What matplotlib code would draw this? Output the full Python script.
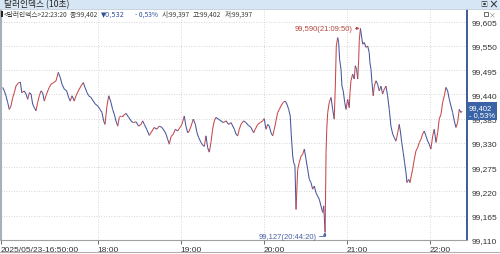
import matplotlib
matplotlib.use("Agg")
import matplotlib.pyplot as plt
from matplotlib.collections import LineCollection
from matplotlib.patches import Rectangle
import numpy as np

# Dollar index, 10-second bars: minutes after 16:50:00 and price
times_min = [
    1.2, 2.4, 3.6, 4.8, 6.0, 7.2, 8.5, 9.6, 10.8, 12.5, 14.0, 15.0, 16.8, 18.1, 19.3, 20.5,
    21.7, 22.9, 24.1, 25.3, 26.5, 27.7, 28.9, 30.1, 31.3, 32.5, 33.8, 34.9, 36.1, 38.1, 39.8,
    41.4, 42.9, 44.1, 45.8, 47.5, 48.9, 50.1, 51.3, 53.0, 54.2, 55.9, 57.8, 59.5, 60.7, 62.2,
    63.4, 65.1, 66.7, 68.2, 69.9, 71.6, 73.0, 74.2, 75.2, 76.6, 77.9, 79.5, 80.7, 81.9, 83.1,
    84.4, 85.5, 86.7, 88.0, 90.4, 92.3, 94.0, 95.6, 97.6, 99.5, 101.2, 102.4, 103.6, 105.3,
    107.2, 109.2, 110.8, 112.6, 114.4, 116.4, 118.1, 119.3, 120.5, 121.7, 122.9, 124.6, 126.0,
    127.7, 129.4, 130.8, 132.5, 133.7, 135.0, 136.1, 137.4, 139.0, 140.5, 141.7, 142.9, 144.6,
    145.8, 147.0, 148.2, 149.4, 150.6, 151.8, 153.0, 154.2, 155.4, 157.1, 159.0, 160.7, 162.7,
    164.6, 166.3, 168.7, 169.9, 171.1, 172.3, 173.5, 175.4, 177.1, 178.8, 180.7, 182.7, 183.8,
    185.6, 187.4, 189.2, 190.3, 191.6, 192.8, 194.0, 195.2, 196.4, 197.6, 198.8, 200.0, 201.2,
    202.4, 204.1, 205.5, 206.7, 208.0, 209.1, 209.9, 210.4, 210.9, 211.6, 212.5, 213.3, 214.5,
    215.6, 216.9, 218.1, 219.3, 220.5, 221.7, 222.9, 224.1, 225.3, 226.5, 227.7, 228.9, 230.1,
    231.3, 232.6, 233.3, 234.33, 235.0, 235.5, 236.2, 237.3, 238.6, 239.8, 240.9, 241.7, 242.4,
    243.4, 244.1, 244.8, 245.8, 246.5, 247.4, 248.5, 249.4, 250.6, 251.8, 252.3, 253.0, 254.2,
    255.4, 256.1, 257.1, 257.9, 258.6, 259.0, 259.83, 261.5, 262.6, 263.9, 265.1, 266.2, 266.7,
    267.5, 268.2, 269.1, 269.9, 271.1, 272.3, 273.5, 274.7, 275.9, 277.1, 278.3, 279.5, 280.7,
    281.9, 283.2, 284.3, 285.5, 286.8, 287.9, 288.7, 289.7, 290.8, 291.8, 292.8, 293.5, 294.7,
    295.7, 296.6, 297.6, 298.8, 300.0, 301.2, 302.4, 303.6, 304.8, 306.0, 307.2, 308.5, 309.6,
    310.8, 312.1, 313.2, 314.5, 315.7, 316.8, 318.1, 319.3, 320.5, 321.7, 322.9, 324.1, 325.3,
    326.5, 327.7, 328.9, 330.1, 331.3, 332.5, 333.33,
]
prices = [
    99.456, 99.448, 99.437, 99.422, 99.406, 99.414, 99.433, 99.444, 99.459, 99.466, 99.468,
    99.444, 99.448, 99.441, 99.429, 99.444, 99.441, 99.418, 99.410, 99.403, 99.422, 99.437,
    99.448, 99.444, 99.425, 99.437, 99.448, 99.456, 99.463, 99.467, 99.471, 99.490, 99.478,
    99.463, 99.452, 99.448, 99.433, 99.425, 99.437, 99.425, 99.437, 99.448, 99.459, 99.467,
    99.456, 99.444, 99.437, 99.433, 99.425, 99.418, 99.414, 99.406, 99.399, 99.380, 99.372,
    99.414, 99.437, 99.422, 99.406, 99.395, 99.380, 99.368, 99.388, 99.391, 99.391, 99.397,
    99.388, 99.380, 99.376, 99.378, 99.368, 99.372, 99.380, 99.372, 99.361, 99.347, 99.357,
    99.365, 99.361, 99.368, 99.365, 99.357, 99.350, 99.338, 99.327, 99.344, 99.350, 99.361,
    99.357, 99.365, 99.372, 99.391, 99.368, 99.353, 99.357, 99.368, 99.384, 99.372, 99.353,
    99.342, 99.331, 99.325, 99.322, 99.346, 99.319, 99.309, 99.331, 99.361, 99.380, 99.388,
    99.384, 99.380, 99.376, 99.380, 99.372, 99.376, 99.361, 99.350, 99.346, 99.361, 99.372,
    99.380, 99.376, 99.370, 99.365, 99.353, 99.361, 99.372, 99.376, 99.380, 99.385, 99.361,
    99.372, 99.368, 99.353, 99.346, 99.361, 99.380, 99.399, 99.406, 99.414, 99.422, 99.425,
    99.418, 99.406, 99.391, 99.346, 99.323, 99.300, 99.285, 99.278, 99.179, 99.270, 99.285,
    99.300, 99.304, 99.316, 99.293, 99.270, 99.247, 99.240, 99.225, 99.232, 99.217, 99.209,
    99.202, 99.187, 99.172, 99.187, 99.127, 99.308, 99.361, 99.399, 99.422, 99.433, 99.406,
    99.384, 99.459, 99.550, 99.569, 99.558, 99.520, 99.497, 99.459, 99.448, 99.422, 99.406,
    99.429, 99.410, 99.444, 99.471, 99.486, 99.475, 99.505, 99.497, 99.475, 99.520, 99.562,
    99.590, 99.554, 99.558, 99.547, 99.550, 99.535, 99.513, 99.497, 99.467, 99.437, 99.459,
    99.471, 99.463, 99.448, 99.459, 99.441, 99.452, 99.459, 99.437, 99.406, 99.368, 99.350,
    99.342, 99.334, 99.353, 99.372, 99.357, 99.331, 99.308, 99.285, 99.262, 99.240, 99.247,
    99.240, 99.255, 99.270, 99.293, 99.312, 99.319, 99.331, 99.338, 99.350, 99.357, 99.346,
    99.334, 99.327, 99.316, 99.346, 99.361, 99.331, 99.353, 99.384, 99.395, 99.422, 99.437,
    99.456, 99.448, 99.429, 99.414, 99.399, 99.380, 99.365, 99.376, 99.406, 99.399, 99.402,
]

y_ticks = [99.110, 99.165, 99.220, 99.275, 99.330, 99.385, 99.440, 99.495, 99.550, 99.605]
x_ticks = [0, 70, 130, 190, 250, 310]
x_labels = ["2025/05/23-16:50:00", "18:00", "19:00", "20:00", "21:00", "22:00"]

high_time, high_price, high_label = 259.83, 99.590, "99,590(21:09:50)"
low_time, low_price, low_label = 234.33, 99.127, "99,127(20:44:20)"
last_label = "99,402\n- 0,53%"

# status line pieces: (text, blue?, gap after in px)
info_parts = [("<달러인덱스>22:23:20", False, 2), ("종:99,402", False, 3), ("▼0,532", True, 10),
              ("- 0,53%", True, 4), ("시:99,397", False, 3), ("고:99,402", False, 3),
              ("저:99,397", False, 0)]

KR = ["Noto Sans CJK KR", "DejaVu Sans"]
MIX = ["Liberation Sans Narrow", "Noto Sans CJK KR", "DejaVu Sans"]
NUM = ["Liberation Sans Narrow", "Liberation Sans", "DejaVu Sans"]
UP = "#c8474a"
DOWN = "#46559e"
GRAY_TXT = "#3c3c3c"
BLUE_TXT = "#2c4fa0"

fig = plt.figure(figsize=(5, 2.55), dpi=100)
W, H = 500.0, 255.0
renderer = fig.canvas.get_renderer()

# window title bar
fig.patches.append(Rectangle((0, 1 - 10 / H), 1, 10 / H, transform=fig.transFigure,
                             facecolor="#d7e6f4", edgecolor="none", zorder=0))
fig.text(4 / W, 1 - 5 / H, "달러인덱스 (10초)", family=KR, fontsize=6.3,
         color="#222222", va="center", ha="left")
fig.text(484 / W, 1 - 5 / H, "▣", family=KR, fontsize=5, color="#333333", va="center", ha="center")
fig.text(493 / W, 1 - 5 / H, "×", family=KR, fontsize=7, color="#333333", va="center", ha="center",
         weight="bold")

ax = fig.add_axes([1 / W, 14 / H, 466 / W, 231 / H])
ax.set_xlim(0, 336.9)
ax.set_ylim(99.1095, 99.634)

pts = np.column_stack([times_min, prices])
segs = np.stack([pts[:-1], pts[1:]], axis=1)
cols = [UP if b >= a else DOWN for a, b in zip(prices[:-1], prices[1:])]
ax.add_collection(LineCollection(segs, colors=cols, linewidths=0.75))

# grid
for v in y_ticks:
    ax.axhline(v, color="#c9c9c9", lw=0.6, ls=(0, (1, 2)), zorder=0)
for v in x_ticks[1:]:
    ax.axvline(v, color="#c9c9c9", lw=0.6, ls=(0, (1, 2)), zorder=0)

ax.yaxis.tick_right()
ax.set_yticks(y_ticks)
ax.set_yticklabels([f"{v:.3f}".replace(".", ",") for v in y_ticks], family=NUM,
                   fontsize=6, color="#333333")
ax.tick_params(axis="y", length=0, pad=3)
ax.set_xticks(x_ticks)
ax.set_xticklabels(x_labels, family=NUM, fontsize=6, color="#333333")
for lab in ax.get_xticklabels():
    lab.set_ha("left")
ax.tick_params(axis="x", length=3, width=0.6, color="#555555", pad=1, direction="out")

ax.spines["top"].set_visible(False)
ax.spines["left"].set_color("#a8b0b8")
ax.spines["left"].set_linewidth(1.5)
ax.spines["bottom"].set_color("#a0a0a0")
ax.spines["bottom"].set_linewidth(0.8)
ax.spines["right"].set_color("#2d4f8a")
ax.spines["right"].set_linewidth(1.3)

# status line, pieces laid out one after another
iy = 1 - 14.5 / H
fig.patches.append(Rectangle((1 / W, iy - 3 / H), 1.5 / W, 6 / H, transform=fig.transFigure,
                             facecolor="#222222", edgecolor="none"))
xpos = 4
for txt, blue, gap in info_parts:
    fam = ["Liberation Sans Narrow", "DejaVu Sans"] if txt.startswith("▼") else MIX
    t = fig.text(xpos / W, iy, txt, family=fam, fontsize=4.8,
                 color=BLUE_TXT if blue else GRAY_TXT, va="center", ha="left")
    xpos = t.get_window_extent(renderer).x1 + gap

# small box icon top right of chart
fig.patches.append(Rectangle((484 / W, 1 - 17 / H), 4 / W, 4 / H, transform=fig.transFigure,
                             facecolor="white", edgecolor="#555555", lw=0.6))
fig.text(492 / W, 1 - 15 / H, "×", family=KR, fontsize=5, color="#777777", va="center", ha="center")

# high / low annotations
ax.annotate(high_label, xy=(high_time - 0.6, high_price), xytext=(-5, 0),
            textcoords="offset points", ha="right", va="center", fontsize=5.5, family=NUM,
            color="#b5473f",
            arrowprops=dict(arrowstyle="-|>,head_length=0.3,head_width=0.15", color="#b5473f",
                            lw=0.6, shrinkA=0, shrinkB=0))
ax.annotate(low_label, xy=(low_time - 0.3, low_price), xytext=(-6, -3),
            textcoords="offset points", ha="right", va="center", fontsize=5.5, family=NUM,
            color="#4a62a8",
            arrowprops=dict(arrowstyle="-|>,head_length=0.3,head_width=0.15", color="#4a62a8",
                            lw=0.6, shrinkA=0, shrinkB=0,
                            connectionstyle="angle,angleA=0,angleB=90,rad=0"))

# last price box (sits over the 99,385 label, as in the trading window)
ax.annotate(last_label, xy=(1.004, prices[-1]), xycoords=("axes fraction", "data"),
            ha="left", va="center", fontsize=5.5, family=NUM, color="white", linespacing=0.95,
            bbox=dict(boxstyle="square,pad=0.25", fc="#3a64a6", ec="none"),
            annotation_clip=False, zorder=5)

# window borders
fig.add_artist(plt.Line2D([0, 1], [2 / H, 2 / H], transform=fig.transFigure, color="#b0b0b0", lw=0.8))
fig.add_artist(plt.Line2D([0, 1], [1 - 10 / H, 1 - 10 / H], transform=fig.transFigure,
                          color="#c0ccd8", lw=0.6))

fig.savefig("out.png", dpi=100, facecolor="white")
